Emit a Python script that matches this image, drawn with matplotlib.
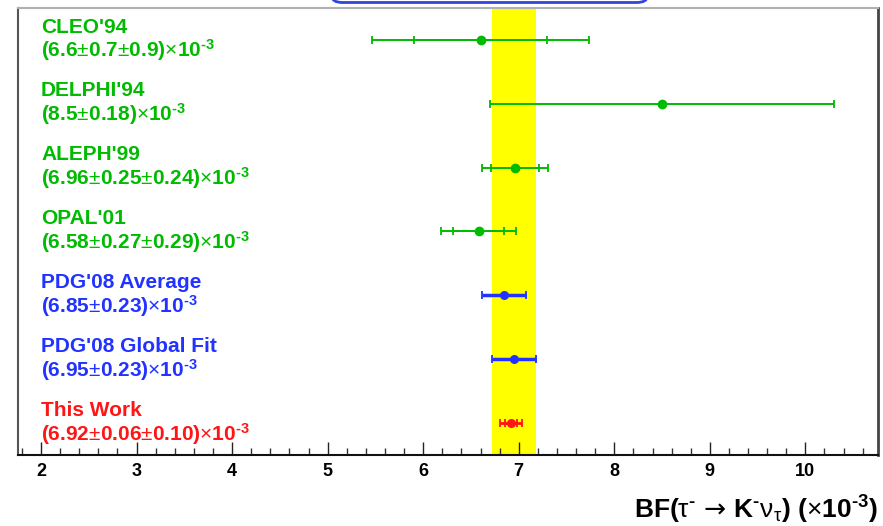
import matplotlib
matplotlib.use("Agg")
from matplotlib import pyplot as plt
from matplotlib.ticker import MultipleLocator
from matplotlib.patches import FancyBboxPatch

plt.rcParams['font.family'] = ['Liberation Sans', 'DejaVu Sans']
plt.rcParams['mathtext.fontset'] = 'custom'
plt.rcParams['mathtext.rm'] = 'Liberation Sans'
plt.rcParams['mathtext.bf'] = 'Liberation Sans:bold'
plt.rcParams['mathtext.it'] = 'Liberation Sans:italic'
plt.rcParams['mathtext.sf'] = 'DejaVu Sans'
plt.rcParams['mathtext.default'] = 'rm'

EXP = "$^{\\mathbf{\u2010 3}}$".replace(" ", "")

# Measurements (BF x 10^-3)
names = ["CLEO'94", "DELPHI'94", "ALEPH'99", "OPAL'01",
         "PDG'08 Average", "PDG'08 Global Fit", "This Work"]
values = [6.6, 8.5, 6.96, 6.58, 6.85, 6.95, 6.92]
stat_err = [0.7, 1.8, 0.25, 0.27, 0.23, 0.23, 0.06]
syst_err = [0.9, 0.0, 0.24, 0.29, 0.0, 0.0, 0.10]
value_texts = [r"(6.6$\pm$0.7$\pm$0.9)$\times$10" + EXP,
               r"(8.5$\pm$0.18)$\times$10" + EXP,
               r"(6.96$\pm$0.25$\pm$0.24)$\times$10" + EXP,
               r"(6.58$\pm$0.27$\pm$0.29)$\times$10" + EXP,
               r"(6.85$\pm$0.23)$\times$10" + EXP,
               r"(6.95$\pm$0.23)$\times$10" + EXP,
               r"(6.92$\pm$0.06$\pm$0.10)$\times$10" + EXP]
kinds = ['exp', 'exp', 'exp', 'exp', 'pdg', 'pdg', 'this']

colors = {'exp': '#00bb00', 'pdg': '#2233ff', 'this': '#ff1515'}
line_w = {'exp': 1.4, 'pdg': 2.5, 'this': 2.0}
mark_s = {'exp': 6.0, 'pdg': 5.5, 'this': 5.5}

fig = plt.figure(figsize=(8.83, 5.26), dpi=100)
ax = fig.add_axes([0.020, 0.135, 0.9743, 0.8498])

# band = PDG'08 global fit
band_c, band_e = values[5], stat_err[5]
ax.axvspan(band_c - band_e, band_c + band_e, color='#ffff00', zorder=0, lw=0)

n = len(names)
for i in range(n):
    y = n - i
    k = kinds[i]
    c = colors[k]
    tot = (stat_err[i]**2 + syst_err[i]**2) ** 0.5
    ax.errorbar(values[i], y, xerr=tot, fmt='o', color=c, ms=mark_s[k],
                lw=line_w[k], capsize=3, capthick=1.3, zorder=3)
    if syst_err[i] > 0:
        ax.errorbar(values[i], y, xerr=stat_err[i], fmt='none', ecolor=c,
                    lw=line_w[k], capsize=3, capthick=1.3, zorder=3)
    ax.text(2.0, y + 0.115, names[i], color=c, fontsize=15,
            fontweight='bold', va='baseline')
    ax.text(2.0, y - 0.27, value_texts[i], color=c, fontsize=15,
            fontweight='bold', va='baseline')

ax.set_xlim(1.755, 10.76)
ax.set_ylim(0.5, 7.5)
ax.set_xticks(range(2, 11))
ax.xaxis.set_minor_locator(MultipleLocator(0.2))
ax.set_yticks([])
ax.tick_params(axis='x', which='major', direction='in', length=9.5, width=1,
               labelsize=13, pad=6, color='#222222')
ax.tick_params(axis='x', which='minor', direction='in', length=5, width=1,
               color='#333333')
for lbl in ax.get_xticklabels():
    lbl.set_fontweight('bold')

ax.spines['left'].set_color('#555555')
ax.spines['left'].set_linewidth(1.5)
ax.spines['top'].set_color('#b0b0b0')
ax.spines['top'].set_linewidth(1.5)
ax.spines['right'].set_color('#444444')
ax.spines['right'].set_linewidth(2)
ax.spines['bottom'].set_color('#111111')
ax.spines['bottom'].set_linewidth(1.5)

fig.text(0.9935, 0.015,
         "BF($\\mathrm{\\tau}^{\\mathbf{\u2010}}\\,\\mathsf{\\rightarrow}\\,$K$^{\\mathbf{\u2010}}\\mathrm{\\nu}_{\\mathrm{\\tau}}$) ($\\times$10" + EXP + ")",
         ha='right', va='baseline', fontsize=19, fontweight='bold')

# title box cut off at the top edge
box = FancyBboxPatch((0.376, 1 - 2.5 / 526), 0.357, 0.1,
                     boxstyle="round,pad=0,rounding_size=0.012",
                     transform=fig.transFigure, facecolor='white',
                     edgecolor='#3344dd', lw=2, clip_on=False)
fig.add_artist(box)

fig.savefig("out.png", dpi=100)
